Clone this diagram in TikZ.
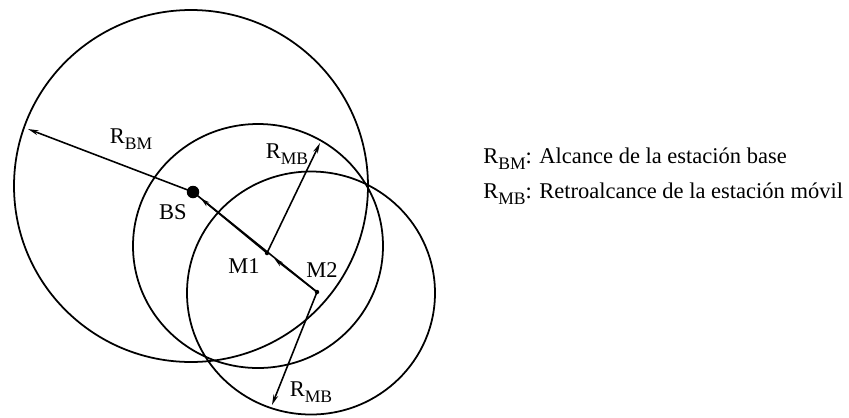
\documentclass[tikz,border=0pt]{standalone}
\usepackage{fontspec}
\setmainfont{Liberation Serif}
\usetikzlibrary{arrows.meta}

\newcommand{\Rsub}[1]{R\raisebox{-3.7pt}{\fontsize{10}{11}\selectfont #1}}

\tikzset{
  range circle/.style={line width=1pt},
  radius arrow/.style={line width=0.9pt,-{Stealth[length=6pt,width=2.8pt]}},
  move arrow/.style={line width=0.9pt,-{Stealth[length=5pt,width=2.8pt]}},
  lbl/.style={inner sep=0pt},
}

\begin{document}
\begin{tikzpicture}[x=0.2mm,y=-0.2mm,font=\fontsize{12.8}{15}\selectfont]
\useasboundingbox (0,0) rectangle (849,417);

% POINTS
\coordinate (BS) at (193,192);
\coordinate (M1) at (267,253);
\coordinate (M2) at (317,292);

% RANGES
% base station range
\draw[range circle] (191,186) ellipse [x radius=177, y radius=176];
% mobile range at M1
\draw[range circle] (258,246) ellipse [x radius=125, y radius=122];
% mobile range at M2
\draw[range circle] (311,293) ellipse [x radius=124, y radius=121.5];

% RADII
\coordinate (RBMend) at (28,129);
\coordinate (RMBup) at (320,143);
\coordinate (RMBdown) at (272,405);
\draw[radius arrow] (BS) -- (RBMend);
\draw[radius arrow] (M1) -- (RMBup);
\draw[radius arrow] (M2) -- (RMBdown);

% MOVEMENT
\draw[line width=0.9pt] (M2) -- (BS);
\draw[move arrow,shorten >=2.1mm] (M1) -- (BS);
\draw[move arrow,shorten >=1.9mm] (M2) -- (M1);

% STATIONS
\node[circle,fill,inner sep=0pt,minimum size=2.5mm] (BSdot) at (BS) {};
\node[circle,fill,inner sep=0pt,minimum size=0.9mm] (M1dot) at (M1) {};
\node[circle,fill,inner sep=0pt,minimum size=0.9mm] (M2dot) at (M2) {};

% LABELS
\node[lbl] (lblRBM) at (131,139) {\Rsub{BM}};
\node[lbl] (lblRMBup) at (287,154) {\Rsub{MB}};
\node[lbl] (lblRMBdown) at (311,392) {\Rsub{MB}};
\node[lbl] (lblBS) at (173,212) {BS};
\node[lbl] (lblM1) at (244,266) {M1};
\node[lbl] (lblM2) at (322,270) {M2};

% LEGEND
\node[lbl,anchor=base west] (leg1) at (483,163) {\Rsub{BM}: Alcance de la estación base};
\node[lbl,anchor=base west] (leg2) at (483,198) {\Rsub{MB}: Retroalcance de la estación móvil};

\end{tikzpicture}
\end{document}
